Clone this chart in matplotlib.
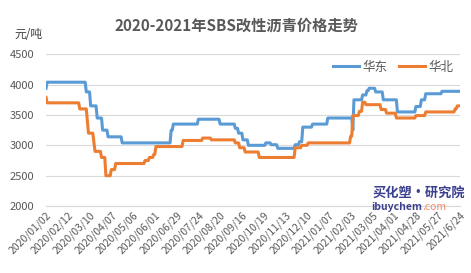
import matplotlib.pyplot as plt
import numpy as np

plt.rcParams['font.family'] = ['Noto Sans CJK SC', 'DejaVu Sans']

# x axis: 381 price dates, one label every 20 points
n_points = 381
tick_labels = ['2020/01/02', '2020/02/12', '2020/03/10', '2020/04/07', '2020/05/06',
               '2020/06/01', '2020/06/29', '2020/07/24', '2020/08/20', '2020/09/16',
               '2020/10/19', '2020/11/13', '2020/12/10', '2021/01/07', '2021/02/03',
               '2021/03/05', '2021/04/01', '2021/04/28', '2021/05/27', '2021/6/24']

# prices change in steps: index where a new price starts, and that price (元/吨)
east_start = [0, 1, 37, 41, 47, 52, 57, 70, 115, 117, 140, 160, 174, 177, 181, 186,
              202, 207, 213, 229, 233, 236, 245, 259, 282, 283, 291, 295, 297, 303,
              310, 323, 340, 345, 349, 364]
east_price = [3940, 4040, 3880, 3650, 3450, 3250, 3140, 3040, 3250, 3350, 3430, 3350,
              3280, 3200, 3090, 3000, 3040, 3010, 2950, 3010, 3060, 3300, 3350, 3450,
              3250, 3750, 3830, 3900, 3940, 3880, 3750, 3550, 3640, 3750, 3850, 3890]

north_start = [0, 1, 31, 38, 39, 44, 45, 51, 55, 60, 64, 91, 95, 99, 101, 126, 144,
               152, 174, 178, 183, 196, 229, 235, 241, 280, 282, 288, 291, 294, 308,
               313, 322, 340, 349, 376, 378]
north_price = [3790, 3700, 3600, 3400, 3200, 3050, 2900, 2800, 2500, 2600, 2700, 2750,
               2800, 2850, 2980, 3080, 3120, 3090, 3040, 2960, 2890, 2800, 2960, 3000,
               3040, 3150, 3490, 3560, 3710, 3670, 3590, 3530, 3450, 3490, 3550, 3600,
               3650]


def expand(starts, prices):
    lengths = np.diff(starts + [n_points])
    return np.repeat(prices, lengths)


east = expand(east_start, east_price)
north = expand(north_start, north_price)
x = np.arange(n_points)

fig = plt.figure(figsize=(4.71, 2.73), dpi=100)
ax = fig.add_axes([45.5 / 471, 1 - 206 / 273, (460 - 45.5) / 471, (206 - 54.3) / 273])

ax.plot(x, east, color='#5B9BD5', lw=2.2, label='华东')
ax.plot(x, north, color='#ED7D31', lw=2.2, label='华北')

ax.set_xlim(-0.5, n_points - 0.5)
ax.set_ylim(2000, 4500)
ax.set_yticks([2000, 2500, 3000, 3500, 4000, 4500])
ax.set_xticks(x[::20])
ax.set_xticklabels(tick_labels, rotation=45, ha='right', va='top', rotation_mode='anchor')
ax.tick_params(axis='both', length=0, colors='#595959', labelsize=7.5)
ax.tick_params(axis='x', pad=3)
ax.tick_params(axis='y', labelsize=8, pad=8)
ax.grid(axis='y', color='#d9d9d9', lw=0.8)
ax.set_axisbelow(True)
for s in ['top', 'right', 'left']:
    ax.spines[s].set_visible(False)
ax.spines['bottom'].set_color('#d9d9d9')

leg = ax.legend(loc='center right', ncol=2, frameon=False, fontsize=9,
                handlelength=2.1, columnspacing=0.9, handletextpad=0.3,
                borderaxespad=0, borderpad=0, bbox_to_anchor=(0.985, 0.916))
for t in leg.get_texts():
    t.set_color('#595959')

fig.text(236 / 471, 1 - 26 / 273, '2020-2021年SBS改性沥青价格走势', ha='center', va='center',
         fontsize=11, fontweight='bold', color='#595959')
fig.text(14 / 471, 1 - 34 / 273, '元/吨', ha='left', va='center', fontsize=8.5, color='#404040')

# watermark
fig.text(419 / 471, 1 - 193 / 273, '买化塑·研究院', ha='center', va='center', fontsize=9.5,
         fontweight='bold', fontstyle='italic', color='#3b3f8f')
fig.text(422 / 471, 1 - 207 / 273, 'ibuychem', ha='right', va='center', fontsize=7.5,
         fontweight='bold', color='#3b3f8f')
fig.text(422 / 471, 1 - 207 / 273, '.com', ha='left', va='center', fontsize=7.5,
         color='#f08a6a')

fig.savefig('out.png', dpi=100)
